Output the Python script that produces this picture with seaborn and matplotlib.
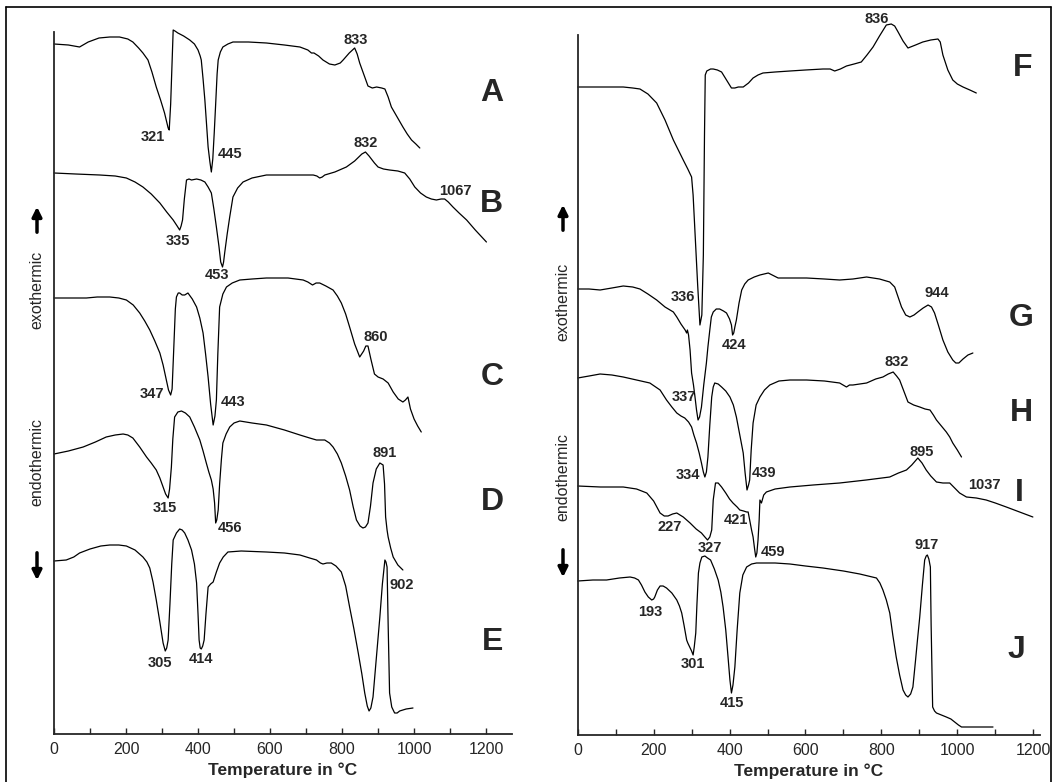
import matplotlib
matplotlib.use("Agg")
import matplotlib.pyplot as plt
import seaborn as sns
import pandas as pd

# DTA curves, (temperature in C, deflection)
curve_a = [(0, 690), (40, 689), (71, 687), (95, 692), (125, 696), (155, 697), (182, 697), (205, 695), (219, 692),
           (235, 686), (247, 681), (261, 674), (272, 662), (284, 647), (296, 634), (307, 621), (317, 606), (320, 604),
           (324, 630), (331, 704), (336, 703), (344, 701), (360, 698), (377, 694), (390, 690), (400, 684), (406, 678),
           (409, 674), (414, 655), (419, 634), (424, 608), (428, 587), (433, 572), (437, 562), (441, 575), (445, 601),
           (449, 630), (453, 660), (456, 674), (462, 682), (469, 687), (483, 690), (497, 692), (540, 692), (590, 691),
           (640, 689), (683, 687), (705, 684), (715, 681), (722, 681), (735, 678), (747, 674), (765, 670), (780, 669),
           (795, 671), (803, 674), (820, 681), (835, 686), (842, 680), (849, 671), (860, 660), (872, 648), (884, 646),
           (896, 647), (910, 646), (919, 645), (928, 637), (937, 627), (953, 617), (969, 607), (981, 600), (993, 594),
           (1005, 590), (1016, 586)]
curve_b = [(0, 561), (60, 560), (127, 559), (170, 558), (201, 556), (225, 552), (247, 547), (270, 540), (294, 531),
           (313, 522), (331, 514), (342, 508), (349, 504), (353, 508), (357, 514), (362, 535), (368, 554), (375, 555),
           (382, 554), (396, 555), (408, 554), (419, 552), (428, 547), (437, 541), (444, 525), (451, 507), (458, 488),
           (463, 472), (468, 467), (471, 472), (474, 481), (481, 500), (488, 517), (497, 537), (510, 546), (525, 552),
           (550, 556), (590, 559), (650, 559), (720, 559), (730, 558), (738, 556), (745, 557), (752, 559), (780, 562),
           (812, 567), (835, 573), (855, 580), (865, 582), (875, 578), (890, 571), (900, 567), (915, 565), (932, 564),
           (955, 563), (974, 561), (988, 555), (1002, 547), (1018, 541), (1034, 537), (1048, 535), (1062, 534),
           (1075, 535), (1085, 535), (1095, 532), (1108, 527), (1125, 521), (1146, 514), (1170, 504), (1201, 492)]
curve_c = [(0, 436), (45, 436), (90, 436), (120, 437), (155, 437), (180, 436), (201, 434), (220, 429), (238, 421),
           (252, 413), (266, 404), (280, 393), (294, 381), (303, 369), (312, 354), (318, 344), (324, 339), (328, 345),
           (332, 380), (337, 425), (340, 437), (345, 441), (349, 441), (356, 439), (363, 439), (372, 441), (384, 435),
           (396, 427), (405, 416), (414, 401), (421, 380), (428, 357), (435, 330), (442, 309), (447, 318), (451, 334),
           (455, 380), (460, 427), (469, 440), (479, 447), (495, 451), (516, 454), (550, 455), (590, 456), (650, 456),
           (692, 454), (705, 452), (718, 449), (728, 451), (738, 451), (755, 448), (775, 444), (787, 438), (798, 431),
           (810, 420), (821, 407), (835, 390), (849, 377), (860, 383), (866, 388), (872, 388), (880, 375), (890, 360),
           (900, 357), (914, 355), (928, 351), (942, 342), (956, 335), (969, 332), (976, 334), (983, 337), (990, 325),
           (1000, 315), (1010, 308), (1020, 302)]
curve_d = [(0, 280), (40, 283), (81, 287), (115, 292), (145, 297), (170, 299), (192, 300), (205, 299), (219, 296),
           (238, 287), (257, 277), (270, 271), (284, 264), (294, 256), (303, 247), (310, 240), (317, 236), (321, 245),
           (326, 267), (330, 295), (335, 317), (344, 322), (354, 323), (365, 321), (377, 317), (390, 307), (405, 294),
           (414, 283), (423, 271), (430, 262), (437, 254), (442, 245), (446, 231), (449, 211), (452, 214), (456, 224),
           (460, 250), (465, 275), (469, 291), (478, 300), (488, 307), (500, 311), (516, 313), (550, 311), (590, 309),
           (640, 304), (683, 299), (710, 296), (729, 294), (752, 294), (765, 291), (775, 287), (787, 280), (798, 271),
           (810, 258), (821, 244), (831, 227), (840, 214), (850, 208), (858, 206), (865, 207), (872, 211), (879, 228),
           (886, 251), (895, 265), (905, 271), (914, 269), (918, 250), (921, 217), (925, 204), (928, 197), (935, 186),
           (942, 177), (955, 169), (969, 164)]
curve_e = [(0, 173), (34, 174), (55, 177), (71, 181), (100, 185), (130, 188), (155, 189), (180, 189), (201, 188),
           (225, 184), (247, 177), (258, 172), (266, 166), (275, 152), (284, 134), (294, 112), (303, 91), (309, 83),
           (313, 86), (317, 94), (322, 130), (327, 170), (331, 194), (340, 201), (349, 205), (356, 204), (363, 201),
           (372, 194), (382, 184), (390, 170), (396, 151), (400, 120), (403, 94), (406, 86), (409, 85), (413, 88),
           (417, 94), (422, 120), (428, 147), (435, 150), (442, 152), (451, 162), (460, 171), (470, 177), (483, 182),
           (520, 183), (590, 182), (640, 181), (683, 179), (710, 176), (729, 174), (740, 171), (747, 170), (758, 171),
           (770, 171), (783, 168), (798, 162), (810, 148), (821, 127), (833, 105), (845, 81), (855, 60), (863, 41),
           (870, 28), (875, 23), (880, 26), (886, 37), (895, 75), (905, 117), (912, 150), (919, 174), (922, 172),
           (925, 167), (928, 110), (932, 41), (938, 27), (946, 21), (953, 21), (960, 23), (978, 25), (997, 26)]

curve_f = [(0, 648), (60, 648), (120, 648), (145, 647), (164, 646), (185, 641), (208, 632), (230, 615), (252, 595),
           (265, 585), (278, 575), (290, 566), (300, 558), (304, 540), (310, 495), (316, 450), (322, 410), (327, 420),
           (331, 480), (334, 600), (336, 660), (340, 664), (350, 666), (357, 666), (368, 665), (379, 663), (392, 655),
           (405, 647), (414, 647), (423, 648), (436, 648), (450, 652), (462, 657), (475, 660), (488, 662), (520, 663),
           (559, 664), (600, 665), (646, 666), (665, 666), (677, 664), (692, 666), (708, 669), (728, 671), (747, 673),
           (762, 680), (778, 688), (795, 699), (813, 710), (826, 711), (835, 709), (844, 703), (857, 694), (870, 687),
           (890, 690), (909, 693), (930, 695), (949, 696), (955, 693), (962, 680), (975, 665), (988, 655), (1000, 651),
           (1015, 648), (1033, 645), (1050, 642)]
curve_g = [(0, 446), (30, 446), (59, 445), (90, 447), (120, 449), (145, 448), (164, 446), (185, 441), (208, 435),
           (230, 428), (252, 423), (261, 418), (272, 411), (283, 405), (287, 402), (289, 405), (292, 400), (296, 385),
           (300, 362), (305, 350), (309, 338), (313, 325), (317, 315), (321, 318), (326, 328), (332, 350), (339, 372),
           (343, 388), (348, 405), (352, 418), (357, 423), (365, 426), (374, 426), (384, 424), (392, 422), (400, 416),
           (405, 410), (408, 400), (411, 402), (414, 408), (418, 415), (425, 432), (432, 445), (440, 451), (449, 455),
           (465, 458), (480, 460), (502, 462), (528, 457), (559, 457), (603, 457), (650, 456), (690, 455), (725, 456),
           (761, 458), (795, 456), (822, 453), (835, 448), (844, 438), (853, 428), (864, 420), (875, 418), (886, 420),
           (896, 423), (910, 427), (923, 430), (932, 428), (940, 422), (950, 410), (962, 395), (975, 383), (988, 375),
           (996, 372), (1004, 372), (1015, 376), (1028, 380), (1041, 382)]
curve_h = [(0, 357), (30, 359), (59, 361), (90, 360), (120, 358), (155, 355), (190, 352), (217, 345), (234, 335),
           (248, 328), (261, 322), (272, 319), (282, 317), (292, 313), (300, 308), (306, 300), (313, 292), (320, 282),
           (326, 272), (331, 263), (335, 258), (339, 263), (343, 278), (348, 310), (353, 338), (357, 348), (361, 352),
           (370, 351), (379, 348), (390, 344), (401, 338), (410, 330), (418, 318), (426, 302), (436, 282), (441, 262),
           (446, 245), (450, 250), (453, 255), (457, 285), (462, 312), (470, 330), (480, 338), (492, 345), (506, 350),
           (530, 354), (559, 355), (603, 355), (650, 354), (690, 352), (708, 348), (716, 350), (725, 350), (761, 352),
           (785, 356), (804, 358), (818, 361), (831, 363), (840, 359), (848, 355), (858, 345), (870, 333), (885, 330),
           (901, 328), (915, 326), (928, 325), (937, 320), (945, 315), (958, 309), (971, 303), (980, 298), (988, 292),
           (1000, 285), (1011, 278)]
curve_i = [(0, 249), (60, 248), (120, 248), (155, 246), (182, 242), (200, 234), (217, 222), (228, 219), (238, 219),
           (250, 221), (261, 222), (278, 218), (296, 212), (312, 206), (326, 202), (335, 198), (342, 195), (348, 198),
           (353, 205), (355, 220), (357, 235), (363, 252), (370, 252), (379, 248), (390, 242), (400, 236), (409, 232),
           (420, 228), (427, 225), (437, 224), (445, 223), (449, 223), (453, 215), (458, 205), (462, 198), (466, 186),
           (469, 178), (472, 182), (475, 195), (478, 215), (480, 235), (484, 232), (490, 240), (497, 243), (520, 246),
           (559, 248), (620, 250), (690, 252), (760, 255), (822, 258), (845, 262), (866, 265), (880, 270), (896, 277),
           (907, 272), (918, 265), (930, 259), (945, 253), (962, 252), (980, 252), (993, 247), (1006, 242), (1024, 238),
           (1050, 237), (1076, 235), (1100, 232), (1129, 228), (1164, 223), (1199, 218)]
curve_j = [(0, 154), (40, 155), (76, 155), (110, 157), (138, 158), (150, 157), (160, 155), (168, 150), (177, 143),
           (186, 138), (195, 135), (200, 136), (203, 138), (210, 145), (217, 149), (225, 149), (234, 147), (248, 142),
           (261, 135), (268, 129), (274, 122), (280, 110), (287, 95), (290, 92), (295, 88), (300, 84), (304, 80),
           (307, 88), (311, 102), (314, 130), (318, 162), (322, 172), (327, 178), (335, 179), (342, 177), (350, 175),
           (360, 166), (370, 155), (377, 143), (383, 128), (390, 105), (396, 78), (401, 55), (405, 42), (409, 50),
           (414, 68), (420, 105), (427, 142), (435, 160), (445, 168), (458, 171), (471, 172), (520, 172), (559, 171),
           (600, 169), (646, 167), (700, 164), (743, 161), (765, 159), (787, 157), (796, 152), (804, 145), (813, 135),
           (822, 122), (830, 100), (839, 78), (848, 60), (857, 45), (864, 40), (870, 38), (877, 41), (883, 48),
           (890, 75), (895, 95), (901, 118), (908, 150), (914, 175), (918, 179), (921, 180), (925, 176), (929, 168),
           (931, 110), (935, 28), (940, 24), (945, 22), (958, 20), (971, 18), (983, 16), (993, 13), (1003, 10),
           (1011, 8), (1050, 8), (1094, 8)]

# peak labels: (text, temperature, deflection)
left_peaks = [("321", 275, 597), ("445", 488, 580), ("833", 838, 694), ("832", 865, 591), ("1067", 1116, 543),
              ("335", 344, 493), ("453", 453, 459), ("860", 893, 397), ("347", 271, 340), ("443", 497, 332),
              ("891", 919, 281), ("315", 309, 226), ("456", 488, 206), ("902", 965, 149), ("305", 294, 71),
              ("414", 409, 75)]
right_peaks = [("836", 787, 716), ("336", 278, 438), ("424", 412, 390), ("944", 945, 442), ("337", 280, 338),
               ("832", 839, 373), ("334", 291, 260), ("439", 490, 262), ("895", 905, 283), ("1037", 1072, 250),
               ("227", 241, 208), ("421", 417, 215), ("327", 348, 187), ("459", 515, 183), ("917", 918, 190),
               ("193", 190, 123), ("301", 304, 71), ("415", 405, 32)]
left_letters = [("A", 1215, 641), ("B", 1215, 530), ("C", 1218, 357), ("D", 1218, 232), ("E", 1218, 92)]
right_letters = [("F", 1173, 667), ("G", 1168, 417), ("H", 1168, 322), ("I", 1164, 242), ("J", 1155, 85)]

left_curves = {"A": curve_a, "B": curve_b, "C": curve_c, "D": curve_d, "E": curve_e}
right_curves = {"F": curve_f, "G": curve_g, "H": curve_h, "I": curve_i, "J": curve_j}

sns.set_theme(style="ticks")
plt.rcParams["font.family"] = ["Liberation Sans", "DejaVu Sans"]

W, H = 1056, 782
fig = plt.figure(figsize=(W / 100, H / 100), dpi=100)
ax1 = fig.add_axes([54 / W, (H - 734) / H, 458 / W, 702 / H])
ax2 = fig.add_axes([577.7 / W, (H - 735) / H, 462 / W, 700 / H])


def draw_panel(ax, curves, peaks, letters, xmax, ymax):
    for name, pts in curves.items():
        df = pd.DataFrame(pts, columns=["temp", "signal"])
        sns.lineplot(data=df, x="temp", y="signal", ax=ax, color="black", lw=0.9,
                     sort=False, estimator=None, clip_on=False)
    for txt, t, s in peaks:
        ax.text(t, s, txt, ha="center", va="center", fontsize=10.5, fontweight="bold")
    for txt, t, s in letters:
        ax.text(t, s, txt, ha="center", va="center", fontsize=23, fontweight="bold")
    ax.set_xlim(0, xmax)
    ax.set_ylim(0, ymax)
    ax.set_xticks(range(0, 1201, 200))
    ax.set_xticks(range(100, 1201, 200), minor=True)
    ax.set_yticks([])
    ax.tick_params(axis="x", which="both", direction="in", length=4, width=1, pad=6, labelsize=11.5)
    ax.set_xlabel("Temperature in °C", fontsize=12.5, fontweight="bold", labelpad=4)
    ax.set_ylabel("")
    sns.despine(ax=ax)
    for sp in ("left", "bottom"):
        ax.spines[sp].set_linewidth(1.3)
    ax.patch.set_alpha(0)


draw_panel(ax1, left_curves, left_peaks, left_letters, 1272, 702)
draw_panel(ax2, right_curves, right_peaks, right_letters, 1217, 700)

# side captions and arrows (figure pixel positions)
for x, up_y, ex_y, en_y, dn_y in [(37, 547, 492, 320, 232), (563, 549, 480, 305, 235)]:
    fig.text(x / W, ex_y / H, "exothermic", rotation=90, ha="center", va="center", fontsize=11.5)
    fig.text(x / W, en_y / H, "endothermic", rotation=90, ha="center", va="center", fontsize=11.5)
    fig.patches.append(matplotlib.patches.FancyArrowPatch(
        (x / W, up_y / H), (x / W, (up_y + 31) / H), transform=fig.transFigure,
        arrowstyle="-|>", mutation_scale=14, lw=2.5, color="black"))
    fig.patches.append(matplotlib.patches.FancyArrowPatch(
        (x / W, dn_y / H), (x / W, (dn_y - 33) / H), transform=fig.transFigure,
        arrowstyle="-|>", mutation_scale=14, lw=2.5, color="black"))

# outer frame
frame = dict(color="black", lw=1.2, transform=fig.transFigure)
fig.add_artist(matplotlib.lines.Line2D([6 / W, 6 / W], [0, 1 - 7 / H], **frame))
fig.add_artist(matplotlib.lines.Line2D([6 / W, 1051 / W], [1 - 7 / H, 1 - 7 / H], **frame))
fig.add_artist(matplotlib.lines.Line2D([1051 / W, 1051 / W], [0, 1 - 7 / H], **frame))

fig.savefig("out.png", dpi=100, facecolor="white")
